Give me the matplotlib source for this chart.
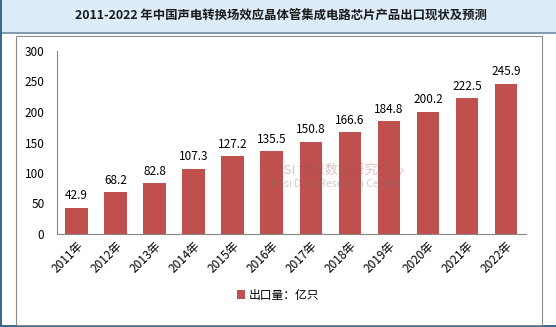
import matplotlib
matplotlib.use("Agg")
import matplotlib.pyplot as plt
from matplotlib.patches import Rectangle

plt.rcParams['font.family'] = ['Noto Sans CJK SC', 'DejaVu Sans']

# data
years = ["2011年", "2012年", "2013年", "2014年", "2015年", "2016年",
         "2017年", "2018年", "2019年", "2020年", "2021年", "2022年"]
exports = [42.9, 68.2, 82.8, 107.3, 127.2, 135.5,
           150.8, 166.6, 184.8, 200.2, 222.5, 245.9]
series_name = "出口量：亿只"
title = "2011-2022 年中国声电转换场效应晶体管集成电路芯片产品出口现状及预测"

W, H = 556, 327
fig = plt.figure(figsize=(W / 100, H / 100), dpi=100)
fig.patch.set_facecolor("white")

def px_rect(x0, y0, x1, y1, **kw):
    # rectangle given in pixel coords measured from top-left
    r = Rectangle((x0 / W, 1 - y1 / H), (x1 - x0) / W, (y1 - y0) / H,
                  transform=fig.transFigure, **kw)
    fig.patches.append(r)

# title band and frame
px_rect(0, 0, W, 33, facecolor="#dcecf9", edgecolor="none")
px_rect(0, 32.5, W, 33.5, facecolor="#7f9db9", edgecolor="none")
px_rect(0, 0, 1.5, H, facecolor="#3d6a8c", edgecolor="none")
px_rect(0, 324.5, W, H, facecolor="#3d6a8c", edgecolor="none")
px_rect(16, 36, 542, 325, facecolor="none", edgecolor="#8c8c8c", linewidth=0.8)

fig.text(0.505, 1 - 16.5 / H, title, ha="center", va="center",
         fontsize=8.9, fontweight="bold", color="#1a1a1a")

ax = fig.add_axes([57 / W, 1 - 234 / H, (525.6 - 57) / W, (234 - 51) / H])
x = range(len(years))
bars = ax.bar(x, exports, width=0.58, color="#c0504d", label=series_name, zorder=2)
for xi, v in zip(x, exports):
    ax.annotate(f"{v:.1f}", (xi, v), xytext=(0, 4), textcoords="offset points",
                ha="center", va="bottom", fontsize=8.5, color="#000000")

ax.set_xlim(-0.5, len(years) - 0.5)
ax.set_ylim(0, 300)
ax.set_yticks(range(0, 301, 50))
ax.set_xticks(list(x))
ax.set_xticklabels(years, rotation=45, ha="right", rotation_mode="anchor", fontsize=8)
ax.tick_params(axis="both", length=0, labelsize=8.5, colors="#000000")
ax.tick_params(axis="y", pad=9)
ax.tick_params(axis="x", pad=4)
for s in ["top", "right"]:
    ax.spines[s].set_visible(False)
for s in ["left", "bottom"]:
    ax.spines[s].set_color("#868686")
    ax.spines[s].set_linewidth(0.8)

# faint watermark, below the value labels
fig.text(335 / W, 1 - 170 / H, "BOSI 博思数据研究中心", ha="center", va="center",
         fontsize=9.5, color="#a05050", alpha=0.35)
fig.text(335 / W, 1 - 184 / H, "Bosi Data Research Center", ha="center", va="center",
         fontsize=7.5, color="#707070", alpha=0.35)

fig.legend(handles=[bars], labels=[series_name], loc="center",
           bbox_to_anchor=(0.5, 1 - 295 / H), frameon=False, fontsize=8.5,
           handlelength=0.7, handleheight=0.7, handletextpad=0.3)

fig.savefig("out.png", dpi=100)
